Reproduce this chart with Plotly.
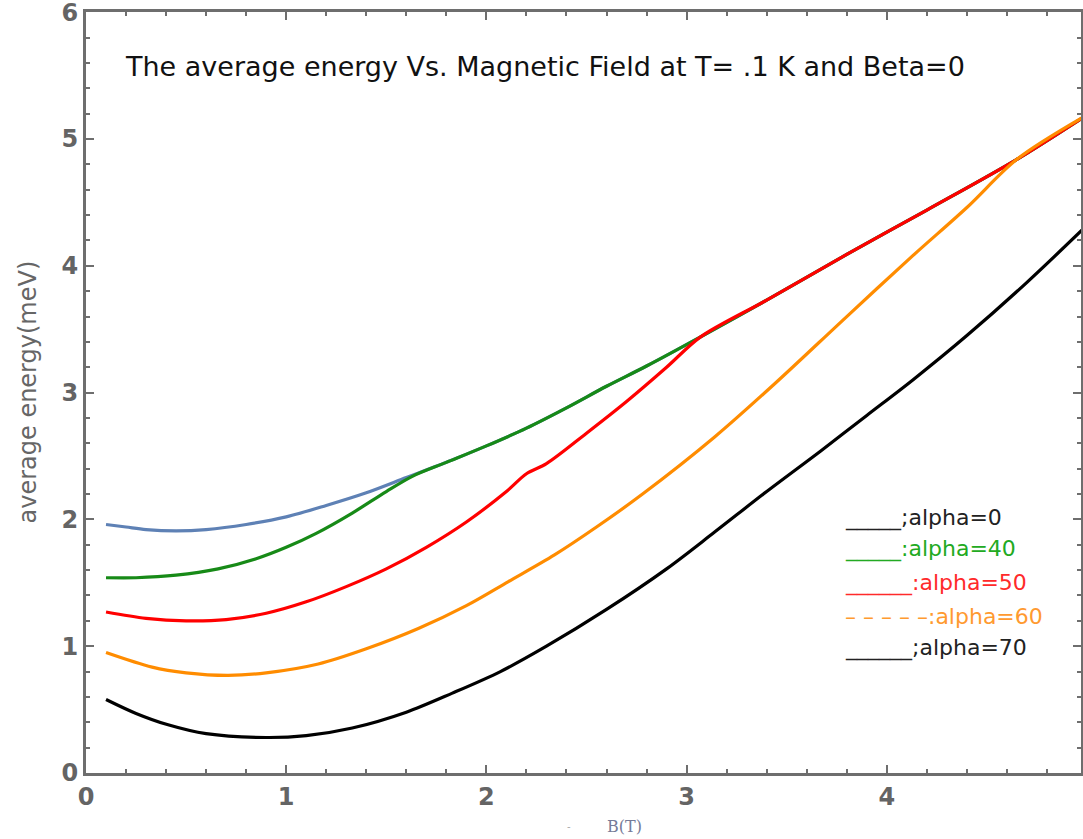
import plotly.graph_objects as go

# ---- data ----
b_alpha0 = [0.1, 0.2, 0.3, 0.45, 0.6, 0.8, 1.0, 1.2, 1.4, 1.6, 1.8, 2.0, 2.2, 2.4, 2.6, 2.8, 3.07, 3.4, 3.8, 4.2, 4.65, 5.0]
e_alpha0 = [1.96, 1.94, 1.92, 1.91, 1.92, 1.96, 2.02, 2.11, 2.21, 2.33, 2.45, 2.58, 2.72, 2.88, 3.05, 3.21, 3.44, 3.73, 4.09, 4.44, 4.84, 5.19]

b_alpha40 = [0.1, 0.25, 0.45, 0.66, 0.85, 1.0, 1.15, 1.33, 1.5, 1.63, 1.8, 2.0, 2.2, 2.4, 2.6, 2.8, 3.07, 3.4, 3.8, 4.2, 4.65, 5.0]
e_alpha40 = [1.54, 1.54, 1.56, 1.61, 1.69, 1.78, 1.89, 2.05, 2.22, 2.34, 2.45, 2.58, 2.72, 2.88, 3.05, 3.21, 3.44, 3.73, 4.09, 4.44, 4.84, 5.19]

b_alpha50 = [0.1, 0.3, 0.5, 0.7, 0.9, 1.1, 1.3, 1.5, 1.7, 1.9, 2.1, 2.2, 2.3, 2.5, 2.7, 2.9, 3.07, 3.4, 3.8, 4.2, 4.65, 5.0]
e_alpha50 = [1.27, 1.22, 1.20, 1.21, 1.26, 1.35, 1.47, 1.61, 1.78, 1.98, 2.22, 2.36, 2.44, 2.68, 2.93, 3.20, 3.44, 3.73, 4.09, 4.44, 4.84, 5.19]

b_alpha60 = [0.1, 0.33, 0.5, 0.71, 0.9, 1.16, 1.4, 1.66, 1.9, 2.11, 2.34, 2.55, 2.78, 3.14, 3.44, 3.8, 4.13, 4.4, 4.65, 5.0]
e_alpha60 = [0.95, 0.835, 0.79, 0.77, 0.79, 0.86, 0.98, 1.14, 1.32, 1.51, 1.72, 1.94, 2.20, 2.65, 3.07, 3.60, 4.08, 4.46, 4.84, 5.19]

b_alpha70 = [0.1, 0.25, 0.41, 0.6, 0.9, 1.1, 1.33, 1.6, 1.83, 2.07, 2.3, 2.6, 2.9, 3.14, 3.4, 3.67, 3.9, 4.13, 4.4, 4.7, 5.0]
e_alpha70 = [0.58, 0.47, 0.38, 0.31, 0.28, 0.295, 0.355, 0.48, 0.63, 0.80, 1.00, 1.29, 1.61, 1.90, 2.22, 2.54, 2.82, 3.10, 3.45, 3.87, 4.32]

legend_labels = ["_____;alpha=0", "_____:alpha=40", "______:alpha=50", "– – – – –:alpha=60", "______;alpha=70"]
x_ticks = [0, 1, 2, 3, 4]
y_ticks = [0, 1, 2, 3, 4, 5, 6]

series = [
    (b_alpha0, e_alpha0, "#5e81b5"),
    (b_alpha40, e_alpha40, "#178a17"),
    (b_alpha50, e_alpha50, "#ff0000"),
    (b_alpha60, e_alpha60, "#ff8c00"),
    (b_alpha70, e_alpha70, "#000000"),
]

fig = go.Figure()
for xs, ys, col in series:
    fig.add_trace(go.Scatter(x=xs, y=ys, mode="lines",
                             line=dict(color=col, width=3.2, shape="spline", smoothing=0.9),
                             showlegend=False, hoverinfo="skip"))

axcol = "#6e6e6e"
tickfont = dict(family="DejaVu Sans", size=24, color="#646464", weight="bold")
common = dict(showline=True, linecolor=axcol, linewidth=3, mirror="ticks",
              ticks="inside", ticklen=8, tickwidth=2, tickcolor=axcol,
              showgrid=False, zeroline=False, tickfont=tickfont,
              ticklabeloverflow="allow", automargin=False)

fig.update_xaxes(range=[0, 4.97], tickvals=x_ticks, ticktext=[str(v) for v in x_ticks],
                 minor=dict(dtick=0.2, tick0=0, ticks="inside", ticklen=4, tickwidth=2, tickcolor=axcol),
                 **common)
fig.update_yaxes(range=[0, 6.002], tickvals=y_ticks, ticktext=[str(v) for v in y_ticks],
                 minor=dict(dtick=0.2, tick0=0, ticks="inside", ticklen=4, tickwidth=2, tickcolor=axcol),
                 **common)

annotations = [
    dict(text="The average energy Vs. Magnetic Field at T= .1 K and Beta=0",
         x=0.461, y=0.928, xref="paper", yref="paper", showarrow=False,
         xanchor="center", yanchor="middle",
         font=dict(family="DejaVu Sans", size=27, color="#111111")),
    dict(text="average energy(meV)", x=(27 - 86) / 995, y=0.5, xref="paper", yref="paper",
         showarrow=False, textangle=-90, xanchor="center", yanchor="middle",
         font=dict(family="DejaVu Sans", size=24, color="#666666")),
    dict(text="B(T)", x=0.541, y=-0.07, xref="paper", yref="paper", showarrow=False,
         xanchor="center", yanchor="middle",
         font=dict(family="DejaVu Serif", size=16, color="#767b98")),
    dict(text="-", x=0.485, y=-0.07, xref="paper", yref="paper", showarrow=False,
         xanchor="center", yanchor="middle",
         font=dict(family="DejaVu Sans", size=10, color="#aaaaaa")),
]

leg_colors = ["#222222", "#22aa22", "#ff2a2a", "#ff9a30", "#222222"]
leg_y = [518, 549, 583, 616, 648]
for lab, c, py in zip(legend_labels, leg_colors, leg_y):
    annotations.append(dict(text=lab, x=(843 - 86) / 995, y=(773 - py) / 761,
                            xref="paper", yref="paper", showarrow=False,
                            xanchor="left", yanchor="middle",
                            font=dict(family="DejaVu Sans", size=22, color=c)))

fig.update_layout(width=1083, height=839, margin=dict(l=86, r=2, t=12, b=66),
                  plot_bgcolor="white", paper_bgcolor="white",
                  annotations=annotations)

fig.write_html("out.html")
